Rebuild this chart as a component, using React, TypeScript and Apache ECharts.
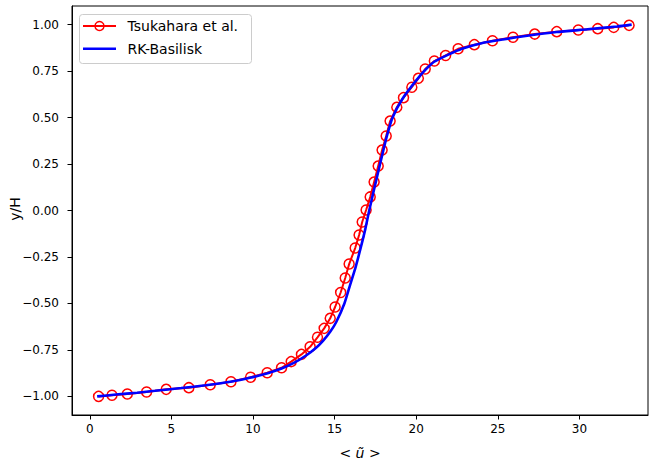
import React, { useEffect, useRef } from "react";
import * as echarts from "echarts";

// Tsukahara et al. (reference data, markers)
const redU = [
  0.54, 1.36, 2.3, 3.48, 4.68, 6.07, 7.38, 8.65, 9.85, 10.87, 11.75, 12.34, 12.97, 13.5, 13.95,
  14.36, 14.73, 15.03, 15.37, 15.65, 15.89, 16.26, 16.5, 16.69, 16.93, 17.18, 17.42, 17.67, 17.91,
  18.16, 18.4, 18.81, 19.22, 19.73, 20.13, 20.55, 21.11, 21.8, 22.57, 23.56, 24.67, 25.93, 27.26,
  28.61, 29.93, 31.12, 32.1, 33.04,
];
const redY = [
  -1.0, -0.994, -0.987, -0.976, -0.962, -0.953, -0.937, -0.921, -0.897, -0.873, -0.846, -0.813,
  -0.774, -0.733, -0.682, -0.634, -0.58, -0.519, -0.441, -0.363, -0.288, -0.202, -0.132, -0.062,
  0.003, 0.073, 0.153, 0.239, 0.325, 0.401, 0.481, 0.555, 0.607, 0.663, 0.711, 0.761, 0.804, 0.834,
  0.87, 0.892, 0.913, 0.932, 0.949, 0.962, 0.971, 0.978, 0.985, 0.996,
];

// RK-Basilisk (simulation profile)
const blueU = [
  0.45, 1.6, 2.9, 4.0, 5.6, 7.1, 8.7, 9.8, 10.9, 11.75, 12.5, 13.25, 13.85, 14.3, 14.75, 15.1, 15.6,
  15.95, 16.3, 16.6, 16.88, 17.12, 17.38, 17.65, 17.92, 18.2, 18.55, 19.15, 20.0, 20.6, 21.1, 22.0,
  22.8, 24.0, 25.3, 26.8, 28.6, 30.5, 32.3, 33.2,
];
const blueY = [
  -1.0, -0.99, -0.98, -0.97, -0.955, -0.94, -0.92, -0.9, -0.875, -0.85, -0.82, -0.78, -0.74, -0.7,
  -0.65, -0.6, -0.5, -0.4, -0.3, -0.2, -0.1, 0.0, 0.1, 0.2, 0.3, 0.4, 0.5, 0.6, 0.7, 0.76, 0.8, 0.84,
  0.87, 0.9, 0.92, 0.94, 0.96, 0.975, 0.99, 1.0,
];

const xTicks = [0, 5, 10, 15, 20, 25, 30];
const yTicks = [-1.0, -0.75, -0.5, -0.25, 0.0, 0.25, 0.5, 0.75, 1.0];
const legendNames = ["Tsukahara et al.", "RK-Basilisk"];
const xName = "< ũ >";
const yName = "y/H";

const FONT = "DejaVu Sans";
const RED = "#ff0000";
const BLUE = "#0000ff";

export default function App() {
  const ref = useRef<HTMLDivElement>(null);
  useEffect(() => {
    if (!ref.current) return;
    const chart = echarts.init(ref.current, null, { renderer: "svg" });
    const redData = redU.map((u, i) => [u, redY[i]]);
    const blueData = blueU.map((u, i) => [u, blueY[i]]);
    chart.setOption({
      animation: false,
      backgroundColor: "#fff",
      grid: {
        left: 72,
        top: 6,
        right: 1,
        bottom: 51,
        containLabel: false,
        outerBoundsMode: "none",
        show: true,
        borderColor: "#000",
        borderWidth: 1,
        backgroundColor: "transparent",
      },
      graphic: [
        {
          type: "text",
          x: 15,
          y: 209,
          rotation: Math.PI / 2,
          style: {
            text: yName,
            fontFamily: FONT,
            fontSize: 14,
            fill: "#000",
            align: "center",
            verticalAlign: "middle",
          },
        },
        {
          type: "group",
          z: 100,
          children: [
            {
              type: "rect",
              shape: { x: 79.5, y: 14.5, width: 172, height: 49, r: 3 },
              style: { fill: "rgba(255,255,255,0.8)", stroke: "#cccccc", lineWidth: 1 },
            },
            {
              type: "line",
              shape: { x1: 83, y1: 26, x2: 116, y2: 26 },
              style: { stroke: RED, lineWidth: 2 },
            },
            {
              type: "circle",
              shape: { cx: 99.5, cy: 26, r: 4.5 },
              style: { fill: "none", stroke: RED, lineWidth: 1.5 },
            },
            {
              type: "text",
              x: 127.5,
              y: 26,
              style: {
                text: legendNames[0],
                fontFamily: FONT,
                fontSize: 14,
                fill: "#000",
                verticalAlign: "middle",
                align: "left",
              },
            },
            {
              type: "line",
              shape: { x1: 83, y1: 48.7, x2: 116, y2: 48.7 },
              style: { stroke: BLUE, lineWidth: 2.6 },
            },
            {
              type: "text",
              x: 127.5,
              y: 48.7,
              style: {
                text: legendNames[1],
                fontFamily: FONT,
                fontSize: 14,
                fill: "#000",
                verticalAlign: "middle",
                align: "left",
              },
            },
          ],
        },
      ],
      xAxis: {
        type: "value",
        min: -1.09,
        max: 34.2,
        splitLine: { show: false },
        axisLine: { show: true, onZero: false, lineStyle: { color: "#000", width: 1 } },
        axisTick: { show: true, length: 4.5, customValues: xTicks, lineStyle: { color: "#000" } },
        axisLabel: {
          customValues: xTicks,
          margin: 8,
          fontFamily: FONT,
          fontSize: 12,
          color: "#000",
          formatter: (v: number) => String(v),
        },
        name: xName,
        nameLocation: "middle",
        nameGap: 31,
        nameTextStyle: { fontFamily: FONT, fontSize: 14, color: "#000", fontStyle: "italic" },
      },
      yAxis: {
        type: "value",
        min: -1.1,
        max: 1.1,
        splitLine: { show: false },
        axisLine: { show: true, onZero: false, lineStyle: { color: "#000", width: 1 } },
        axisTick: { show: true, length: 4.5, customValues: yTicks, lineStyle: { color: "#000" } },
        axisLabel: {
          customValues: yTicks,
          margin: 13,
          fontFamily: FONT,
          fontSize: 12,
          color: "#000",
          formatter: (v: number) => v.toFixed(2).replace("-", "\u2212"),
        },
      },
      series: [
        {
          name: legendNames[0],
          type: "line",
          data: redData,
          symbol: "circle",
          symbolSize: 10,
          showAllSymbol: true,
          lineStyle: { color: RED, width: 2 },
          itemStyle: { color: "rgba(0,0,0,0)", borderColor: RED, borderWidth: 1.5 },
          z: 2,
        },
        {
          name: legendNames[1],
          type: "line",
          data: blueData,
          symbol: "none",
          smooth: 0.2,
          lineStyle: { color: BLUE, width: 2.6 },
          itemStyle: { color: BLUE },
          z: 3,
        },
      ],
    });
    return () => chart.dispose();
  }, []);
  return <div ref={ref} style={{ width: 649, height: 466, position: "absolute", left: 0, top: 0 }} />;
}
